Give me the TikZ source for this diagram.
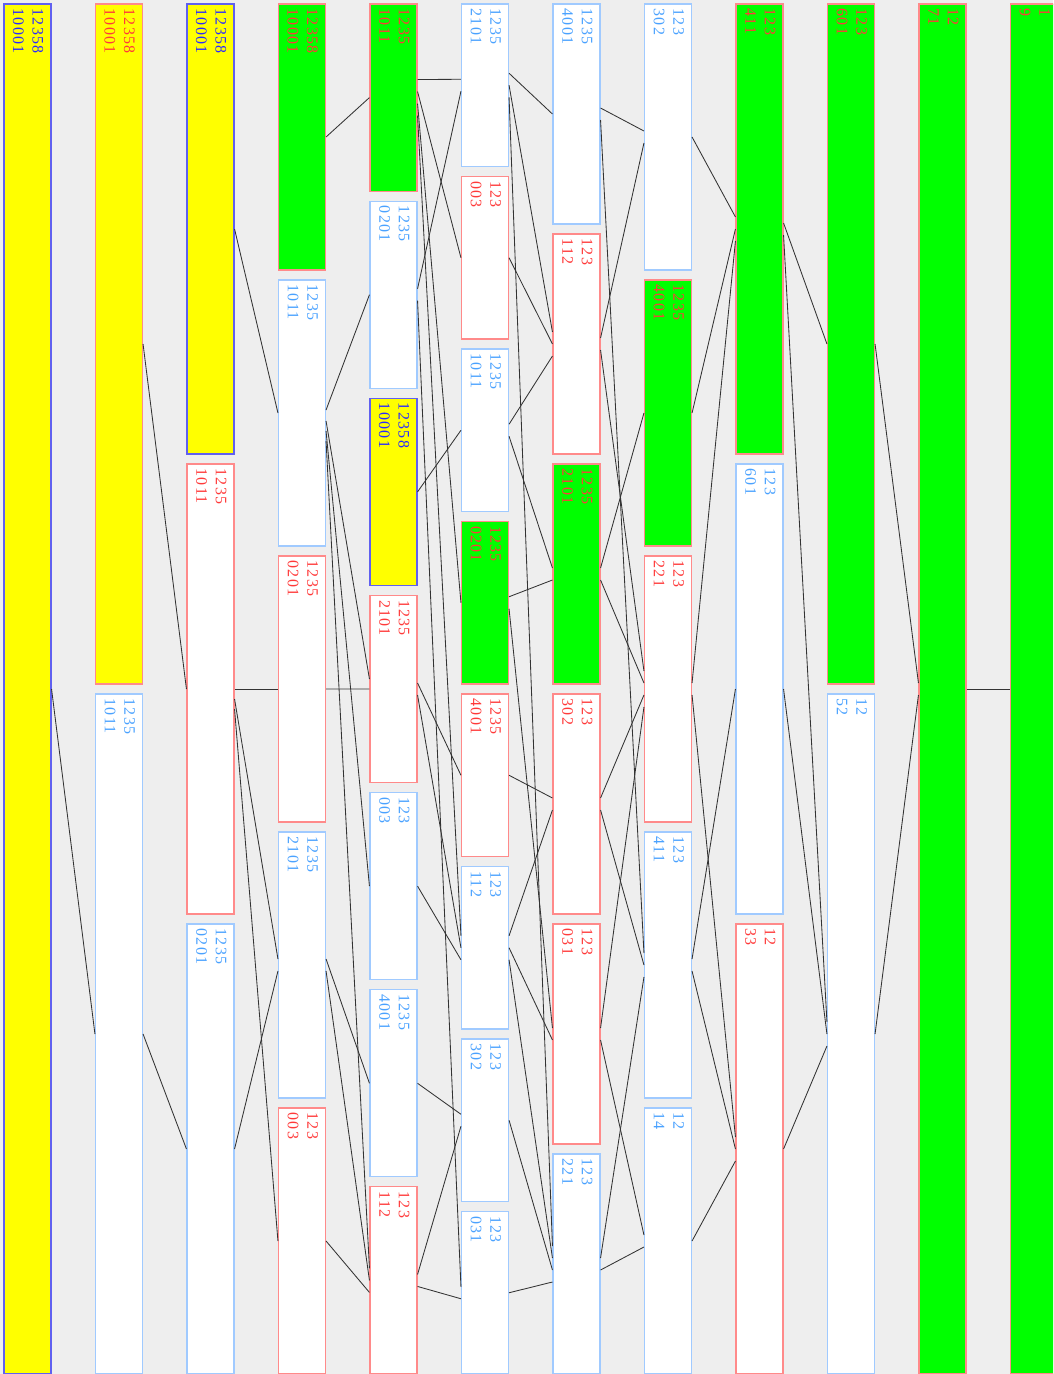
\documentclass[tikz,border=0pt]{standalone}
\usepackage{fontspec}
\setmainfont{Liberation Serif}
\newfontfamily\lblfont[LetterSpace=8]{Liberation Serif}
\usetikzlibrary{calc}
\definecolor{bg}{HTML}{EEEEEE}
\definecolor{ylw}{HTML}{FFFF00}
\definecolor{grn}{HTML}{00FF00}
\definecolor{redtx}{HTML}{FF3A3A}
\definecolor{redbd}{HTML}{FF8A8A}
\definecolor{lbtx}{HTML}{4AA2FF}
\definecolor{lbbd}{HTML}{A0CAFF}
\definecolor{dbtx}{HTML}{2A2AFF}
\definecolor{dbbd}{HTML}{6060F0}
\tikzset{
  rd box/.style={rectangle, draw=redbd, line width=1.1pt, inner sep=0pt},
  lb box/.style={rectangle, draw=lbbd, line width=1.1pt, inner sep=0pt},
  db box/.style={rectangle, draw=dbbd, line width=1.1pt, inner sep=0pt},
  lbl/.style={font=\lblfont\fontsize{16}{19.5}\selectfont, inner sep=0pt, align=left},
  rd txt/.style={lbl, text=redtx},
  lb txt/.style={lbl, text=lbtx},
  db txt/.style={lbl, text=dbtx},
  edge/.style={draw=black!80, line width=0.85pt},
}
\newcommand{\mkstate}[8]{%
  \pgfmathsetmacro{\bh}{(1370-10*(#4-1))/#4}%
  \pgfmathsetmacro{\bx}{27.5+#2*91.5}%
  \pgfmathsetmacro{\by}{4+#3*(\bh+10)+\bh/2}%
  \node[#6 box, fill=#5, minimum width=47pt, minimum height=\bh pt] (#1) at (\bx,\by) {};%
  \node[#6 txt, rotate=-90, anchor=north west] (#1t) at ([xshift=-8pt,yshift=-5pt]#1.north east) {#7\\#8};%
}
\newcommand{\lnk}[4]{\draw[edge] ($(#1.east)+(0,#2)$) -- ($(#3.west)+(0,#4)$);}
\begin{document}
\begin{tikzpicture}[x=1pt,y=-1pt]
\useasboundingbox (0,0) rectangle (1053,1374);
\clip (0,0) rectangle (1053,1374);
\fill[bg] (0,0) rectangle (1053,1374);
% column 0
\mkstate{A0}{0}{0}{1}{ylw}{db}{12358}{10001}
% column 1
\mkstate{B0}{1}{0}{2}{ylw}{rd}{12358}{10001}
\mkstate{B1}{1}{1}{2}{white}{lb}{1235}{1011}
% column 2
\mkstate{C0}{2}{0}{3}{ylw}{db}{12358}{10001}
\mkstate{C1}{2}{1}{3}{white}{rd}{1235}{1011}
\mkstate{C2}{2}{2}{3}{white}{lb}{1235}{0201}
% column 3
\mkstate{D0}{3}{0}{5}{grn}{rd}{12358}{10001}
\mkstate{D1}{3}{1}{5}{white}{lb}{1235}{1011}
\mkstate{D2}{3}{2}{5}{white}{rd}{1235}{0201}
\mkstate{D3}{3}{3}{5}{white}{lb}{1235}{2101}
\mkstate{D4}{3}{4}{5}{white}{rd}{123}{003}
% column 4
\mkstate{E0}{4}{0}{7}{grn}{rd}{1235}{1011}
\mkstate{E1}{4}{1}{7}{white}{lb}{1235}{0201}
\mkstate{E2}{4}{2}{7}{ylw}{db}{12358}{10001}
\mkstate{E3}{4}{3}{7}{white}{rd}{1235}{2101}
\mkstate{E4}{4}{4}{7}{white}{lb}{123}{003}
\mkstate{E5}{4}{5}{7}{white}{lb}{1235}{4001}
\mkstate{E6}{4}{6}{7}{white}{rd}{123}{112}
% column 5
\mkstate{F0}{5}{0}{8}{white}{lb}{1235}{2101}
\mkstate{F1}{5}{1}{8}{white}{rd}{123}{003}
\mkstate{F2}{5}{2}{8}{white}{lb}{1235}{1011}
\mkstate{F3}{5}{3}{8}{grn}{rd}{1235}{0201}
\mkstate{F4}{5}{4}{8}{white}{rd}{1235}{4001}
\mkstate{F5}{5}{5}{8}{white}{lb}{123}{112}
\mkstate{F6}{5}{6}{8}{white}{lb}{123}{302}
\mkstate{F7}{5}{7}{8}{white}{lb}{123}{031}
% column 6
\mkstate{G0}{6}{0}{6}{white}{lb}{1235}{4001}
\mkstate{G1}{6}{1}{6}{white}{rd}{123}{112}
\mkstate{G2}{6}{2}{6}{grn}{rd}{1235}{2101}
\mkstate{G3}{6}{3}{6}{white}{rd}{123}{302}
\mkstate{G4}{6}{4}{6}{white}{rd}{123}{031}
\mkstate{G5}{6}{5}{6}{white}{lb}{123}{221}
% column 7
\mkstate{H0}{7}{0}{5}{white}{lb}{123}{302}
\mkstate{H1}{7}{1}{5}{grn}{rd}{1235}{4001}
\mkstate{H2}{7}{2}{5}{white}{rd}{123}{221}
\mkstate{H3}{7}{3}{5}{white}{lb}{123}{411}
\mkstate{H4}{7}{4}{5}{white}{lb}{12}{14}
% column 8
\mkstate{I0}{8}{0}{3}{grn}{rd}{123}{411}
\mkstate{I1}{8}{1}{3}{white}{lb}{123}{601}
\mkstate{I2}{8}{2}{3}{white}{rd}{12}{33}
% column 9
\mkstate{J0}{9}{0}{2}{grn}{rd}{123}{601}
\mkstate{J1}{9}{1}{2}{white}{lb}{12}{52}
% column 10, 11
\mkstate{K0}{10}{0}{1}{grn}{rd}{12}{71}
\mkstate{L0}{11}{0}{1}{grn}{rd}{1}{9}
% connectors
\lnk{A0}{0}{B1}{0}
\lnk{B0}{0}{C1}{0}
\lnk{B1}{0}{C2}{0}
\lnk{C0}{0}{D1}{0}
\lnk{C1}{0}{D2}{0}
\lnk{C1}{10}{D3}{-6}
\lnk{C1}{20}{D4}{0}
\lnk{C2}{0}{D3}{6}
\lnk{D0}{0}{E0}{0}
\lnk{D1}{-3}{E1}{0}
\lnk{D1}{8}{E3}{-10}
\lnk{D1}{18}{E4}{0}
\lnk{D1}{28}{E6}{-12}
\lnk{D2}{0}{E3}{0}
\lnk{D3}{-6}{E5}{0}
\lnk{D3}{6}{E6}{0}
\lnk{D4}{0}{E6}{12}
\lnk{E0}{-18}{F0}{-6}
\lnk{E0}{-6}{F1}{0}
\lnk{E0}{6}{F3}{0}
\lnk{E0}{18}{F5}{-12}
\lnk{E1}{-6}{F0}{6}
\lnk{E1}{6}{F7}{-6}
\lnk{E2}{0}{F2}{0}
\lnk{E3}{-6}{F4}{0}
\lnk{E3}{6}{F5}{0}
\lnk{E4}{0}{F5}{12}
\lnk{E5}{0}{F6}{-6}
\lnk{E6}{-6}{F6}{6}
\lnk{E6}{6}{F7}{6}
\lnk{F0}{-12}{G0}{0}
\lnk{F0}{0}{G1}{-12}
\lnk{F0}{12}{G5}{-18}
\lnk{F1}{0}{G1}{0}
\lnk{F2}{-6}{G1}{12}
\lnk{F2}{6}{G2}{-6}
\lnk{F3}{-6}{G2}{6}
\lnk{F3}{6}{G4}{-6}
\lnk{F4}{0}{G3}{-6}
\lnk{F5}{-12}{G3}{6}
\lnk{F5}{0}{G4}{6}
\lnk{F5}{12}{G5}{-6}
\lnk{F6}{0}{G5}{6}
\lnk{F7}{0}{G5}{18}
\lnk{G0}{-6}{H0}{-6}
\lnk{G0}{6}{H3}{-12}
\lnk{G1}{-6}{H0}{6}
\lnk{G1}{6}{H2}{-18}
\lnk{G2}{-6}{H1}{0}
\lnk{G2}{6}{H2}{-6}
\lnk{G3}{-6}{H2}{6}
\lnk{G3}{6}{H3}{0}
\lnk{G4}{-6}{H2}{18}
\lnk{G4}{6}{H4}{-6}
\lnk{G5}{-6}{H3}{12}
\lnk{G5}{6}{H4}{6}
\lnk{H0}{0}{I0}{-12}
\lnk{H1}{0}{I0}{0}
\lnk{H2}{-6}{I0}{12}
\lnk{H2}{6}{I2}{-12}
\lnk{H3}{-6}{I1}{0}
\lnk{H3}{6}{I2}{0}
\lnk{H4}{0}{I2}{12}
\lnk{I0}{-6}{J0}{0}
\lnk{I0}{6}{J1}{-12}
\lnk{I1}{0}{J1}{0}
\lnk{I2}{0}{J1}{12}
\lnk{J0}{0}{K0}{-6}
\lnk{J1}{0}{K0}{6}
\lnk{K0}{0}{L0}{0}
\end{tikzpicture}
\end{document}
